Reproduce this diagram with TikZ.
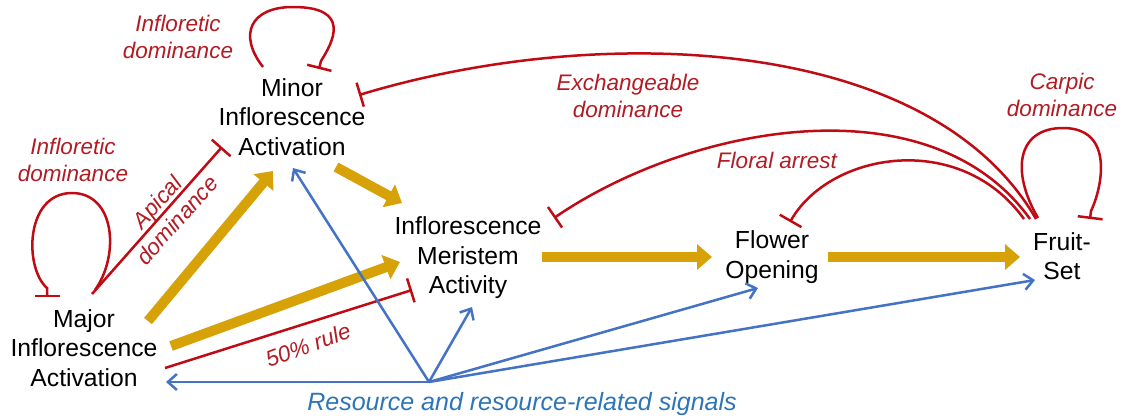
\documentclass[tikz,border=0pt]{standalone}
\usepackage{fontspec}
\setmainfont{Liberation Sans}
\usetikzlibrary{arrows.meta}
\definecolor{gold}{RGB}{214,162,8}
\definecolor{inhib}{RGB}{192,10,20}
\definecolor{inhibtext}{RGB}{178,28,36}
\definecolor{sig}{RGB}{68,114,196}
\definecolor{sigtext}{RGB}{46,117,182}
\tikzset{
  lbl/.style={align=center, inner sep=0pt, font=\fontsize{24.7}{29.5}\selectfont},
  redlbl/.style={align=center, inner sep=0pt, text=inhibtext, font=\fontsize{22.5}{27}\selectfont\itshape},
  promote/.style={draw=gold, line width=10pt, -{Triangle[length=15pt,width=25pt]}},
  inhibit/.style={draw=inhib, line width=2.5pt, -{Bar[width=25pt]}},
  signal/.style={draw=sig, line width=2.5pt, -{Straight Barb[length=9pt,width=16pt]}},
}
\begin{document}
\begin{tikzpicture}[x=1pt,y=-1pt]
\useasboundingbox[fill=white] (0,0) rectangle (1126,418);
% main nodes
\node[lbl] (minor) at (292,117) {Minor\\Inflorescence\\Activation};
\node[lbl] (major) at (84,348) {Major\\Inflorescence\\Activation};
\node[lbl] (ima) at (468,258) {Inflorescence\\Meristem\\Activity};
\node[lbl] (flower) at (772,257) {Flower\\Opening};
\node[lbl] (fruit) at (1062,256) {Fruit-\\Set};
% labels
\node[redlbl] (lInfTop) at (178,37) {Infloretic\\dominance};
\node[redlbl] (lInfLeft) at (73,160) {Infloretic\\dominance};
\node[redlbl, rotate=48] (lApical) at (167,211) {Apical\\dominance};
\node[redlbl] (lExch) at (628,96) {Exchangeable\\dominance};
\node[redlbl] (lCarpic) at (1062,95) {Carpic\\dominance};
\node[redlbl] (lFloral) at (777,160) {Floral arrest};
\node[redlbl, rotate=20] (lRule) at (308,345) {50\% rule};
\node[inner sep=0pt, text=sigtext, font=\fontsize{25}{30}\selectfont\itshape] (lRes) at (522,404) {Resource and resource-related signals};
% connector end points
\coordinate (src) at (429,382);
\coordinate (majYa) at (148,321); \coordinate (minYin) at (273,171);
\coordinate (majYb) at (171,346); \coordinate (imaYa) at (400,262);
\coordinate (minYout) at (336,167); \coordinate (imaYb) at (402,203);
\coordinate (imaYout) at (542,257); \coordinate (floYin) at (712,257);
\coordinate (floYout) at (828,257); \coordinate (fruYin) at (1020,257);
\coordinate (majB) at (166,382); \coordinate (minB) at (293,168);
\coordinate (imaB) at (472,307); \coordinate (floB) at (758,288);
\coordinate (fruB) at (1035,280);
\coordinate (majR) at (92,294); \coordinate (majR2) at (95,290); \coordinate (majL) at (47,297);
\coordinate (minAp) at (222,147);
\coordinate (minLoopA) at (263,67); \coordinate (minLoopB) at (319,69);
\coordinate (minEx) at (359,95);
\coordinate (majRule) at (165,368); \coordinate (imaRule) at (412,290);
\coordinate (fruA) at (1036,219); \coordinate (fruB2) at (1030,219); \coordinate (fruC) at (1024,219);
\coordinate (imaArr) at (554,218); \coordinate (floArr) at (790,222);
\coordinate (fruLoopA) at (1038,218); \coordinate (fruLoopB) at (1090,219);
% promoting arrows
\draw[promote] (majYa) -- (minYin);
\draw[promote] (majYb) -- (imaYa);
\draw[promote] (minYout) -- (imaYb);
\draw[promote] (imaYout) -- (floYin);
\draw[promote] (floYout) -- (fruYin);
% inhibitions
\draw[inhibit] (majR) -- (minAp);
\draw[inhibit] (majR2) .. controls (120,255) and (115,193) .. (72,193) .. controls (25,193) and (24,268) .. (47,288) -- (majL);
\draw[inhibit] (minLoopA) .. controls (238,35) and (250,7) .. (293,7) .. controls (352,7) and (333,42) .. (321,61) -- (minLoopB);
\draw[inhibit] (majRule) -- (imaRule);
\draw[inhibit] (fruA) .. controls (930,35) and (600,22) .. (minEx);
\draw[inhibit] (fruB2) .. controls (930,80) and (690,125) .. (imaArr);
\draw[inhibit] (fruC) .. controls (960,130) and (830,152) .. (floArr);
\draw[inhibit] (fruLoopA) .. controls (1010,170) and (1018,128) .. (1063,128) .. controls (1115,128) and (1102,188) .. (1091,211) -- (fruLoopB);
% signals
\draw[signal] (src) -- (majB);
\draw[signal] (src) -- (minB);
\draw[signal] (src) -- (imaB);
\draw[signal] (src) -- (floB);
\draw[signal] (src) -- (fruB);
\end{tikzpicture}
\end{document}
